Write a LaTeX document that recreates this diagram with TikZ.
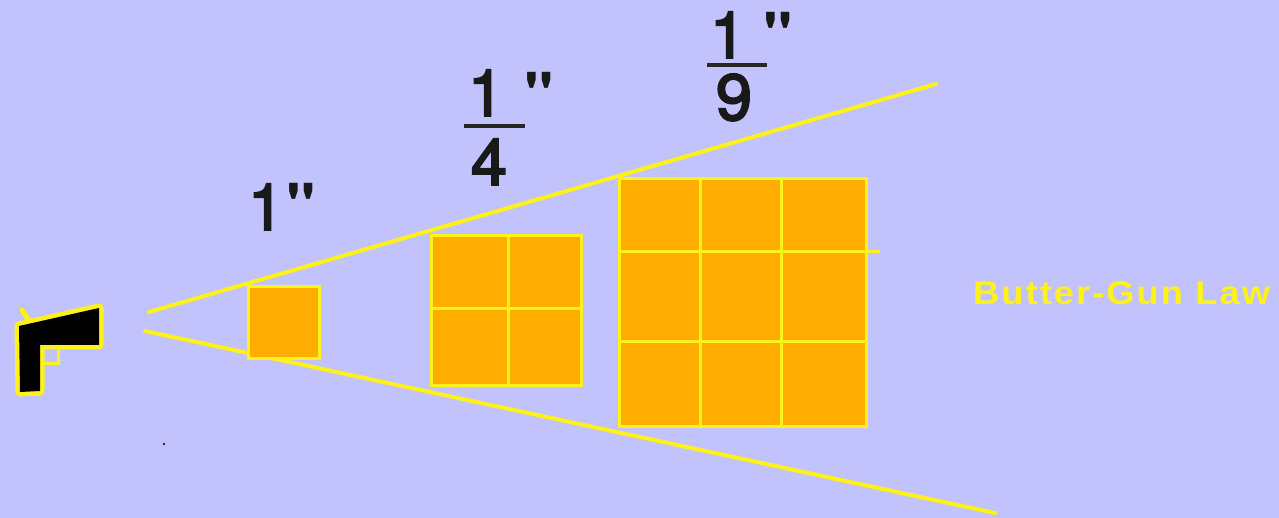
\documentclass[tikz,border=0pt]{standalone}
\usepackage{fontspec}
\newfontfamily\bigfont[FakeBold=3]{TeX Gyre Heros}
\newfontfamily\quotefont{TeX Gyre Heros}
\newfontfamily\lawfont[FakeStretch=1.1,LetterSpace=6.2]{Liberation Sans}
\definecolor{bg}{HTML}{C2C2FC}
\definecolor{yl}{HTML}{FFF21A}
\definecolor{og}{HTML}{FFAD00}
\tikzset{
  beam/.style={draw=yl,line width=4pt,line cap=round},
  sq/.style={draw=yl,fill=og,line width=3pt},
  grid line/.style={draw=yl,line width=3pt},
  big/.style={inner sep=0pt,anchor=base,font=\bigfont\fontsize{65}{65}\selectfont,text=black!90},
  quotemark/.style={inner sep=0pt,anchor=base west,font=\quotefont\fontsize{62}{62}\selectfont\bfseries,text=black!90},
  bar/.style={draw=black!85,line width=4.5pt},
}
\begin{document}
\begin{tikzpicture}[x=1pt,y=-1pt]
\useasboundingbox (0,0) rectangle (1279,518);
\fill[bg] (0,0) rectangle (1279,518);
% beams
\draw[beam] (149,312) -- (936,84);
\draw[beam] (145,331) -- (995,513);
% small square
\draw[sq] (248,287) rectangle (319,358);
% medium square
\draw[sq] (431,236) rectangle (581,385);
\draw[grid line] (508,236) -- (508,385);
\draw[grid line] (431,309) -- (581,309);
% large square
\draw[sq] (619,179) rectangle (866,426);
\draw[grid line] (700,179) -- (700,426);
\draw[grid line] (781,179) -- (781,426);
\draw[grid line] (619,252) -- (880,252);
\draw[grid line] (619,342) -- (866,342);
% gun
\draw[draw=yl,line width=5pt,line cap=round] (22,310) -- (30,322);
\draw[draw=yl,line width=3pt] (40,347) rectangle (58,363);
\draw[draw=yl,line width=9pt,line join=round] (19,326) -- (99,308) -- (99,345) -- (40,345) -- (40,391) -- (20,392) -- cycle;
\fill[black] (19,326) -- (99,308) -- (99,345) -- (40,345) -- (40,391) -- (20,392) -- cycle;
\fill[black!80!bg] (164,444) circle (1.3);
% labels
\node[big] (one) at (266,230) {1};
\node[quotemark] (q1) at (286,229) {"};
\node[big] (num4) at (486,116) {1};
\node[big] (den4) at (489,185) {4};
\node[quotemark] (q4) at (524,118) {"};
\draw[bar] (464,126) -- (525,126);
\node[big] (num9) at (728,58) {1};
\node[big] (den9) at (734,120) {9};
\node[quotemark] (q9) at (763,58) {"};
\draw[bar] (707,65) -- (767,65);
\node[inner sep=0pt,anchor=base west,text=yl,font=\lawfont\fontsize{33}{33}\selectfont\bfseries] (law) at (973,305) {Butter-Gun Law};
\end{tikzpicture}
\end{document}
